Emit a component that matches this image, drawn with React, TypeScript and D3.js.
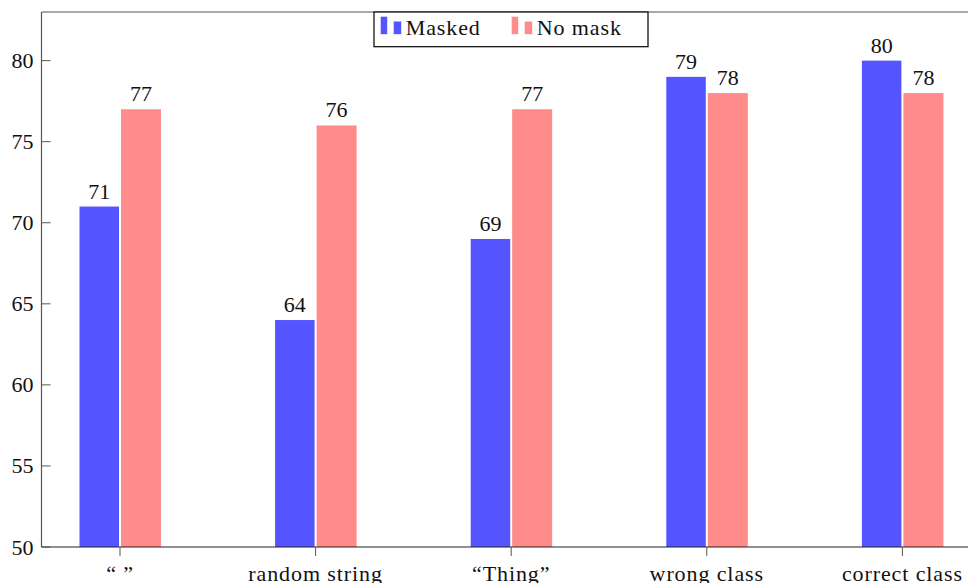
import React from "react";
import * as d3 from "d3";

const categories = ["“ ”", "random string", "“Thing”", "wrong class", "correct class"];
const masked = [71, 64, 69, 79, 80];
const noMask = [77, 76, 77, 78, 78];
const seriesNames = ["Masked", "No mask"];
const yTicks = [50, 55, 60, 65, 70, 75, 80];

const W = 968;
const H = 583;
const FONT = "'Liberation Serif', 'Times New Roman', serif";
const BLUE = "#5555ff";
const PINK = "#ff8b8b";

export default function App() {
  const x = d3.scalePoint<string>().domain(categories).range([120, 902.4]);
  const y = d3.scaleLinear().domain([50, 83]).range([547, 12]);
  const left = 41.5;
  const top = 12;
  const bottom = 547;
  const right = 1100;

  const bars = [
    { name: seriesNames[0], values: masked, color: BLUE, off: -40.5, w: 39.5 },
    { name: seriesNames[1], values: noMask, color: PINK, off: 1, w: 40 },
  ];

  const legendItems = [
    { name: seriesNames[0], color: BLUE, x: 380.7 },
    { name: seriesNames[1], color: PINK, x: 511.7 },
  ];

  return (
    <svg
      width={W}
      height={H}
      style={{ position: "absolute", left: 0, top: 0, background: "#fff" }}
      fontFamily={FONT}
    >
      {/* bars */}
      {bars.map((s) =>
        s.values.map((v, i) => {
          const cx = x(categories[i])!;
          return (
            <g key={s.name + i}>
              <rect
                x={cx + s.off}
                y={y(v)}
                width={s.w}
                height={y(50) - y(v)}
                fill={s.color}
              />
              <text
                x={cx + s.off + s.w / 2}
                y={y(v) - 8}
                textAnchor="middle"
                fontSize={22}
                fill="#111"
              >
                {v}
              </text>
            </g>
          );
        })
      )}

      {/* frame */}
      <line x1={left} x2={left} y1={top} y2={bottom} stroke="#555" strokeWidth={1.2} />
      <line x1={left} x2={right} y1={top} y2={top} stroke="#555" strokeWidth={1.2} />
      <line x1={left} x2={right} y1={bottom} y2={bottom} stroke="#222" strokeWidth={1.2} />

      {/* y ticks */}
      {yTicks.map((t) => (
        <g key={t}>
          <line x1={left} x2={left + 9} y1={y(t)} y2={y(t)} stroke="#555" strokeWidth={1} />
          <text
            x={33.5}
            y={y(t)}
            textAnchor="end"
            dominantBaseline="central"
            fontSize={22}
            fill="#111"
          >
            {t}
          </text>
        </g>
      ))}

      {/* x ticks */}
      {categories.map((c) => (
        <g key={c}>
          <line
            x1={x(c)!}
            x2={x(c)!}
            y1={bottom}
            y2={bottom + 9}
            stroke="#555"
            strokeWidth={1}
          />
          <text
            x={x(c)!}
            y={581}
            textAnchor="middle"
            fontSize={22}
            letterSpacing={0.9}
            fill="#111"
          >
            {c}
          </text>
        </g>
      ))}

      {/* legend */}
      <rect x={374} y={top} width={274} height={34.7} fill="#fff" stroke="#000" strokeWidth={1.2} />
      {legendItems.map((l) => (
        <g key={l.name}>
          <rect x={l.x} y={16.7} width={6.5} height={17.5} fill={l.color} />
          <rect x={l.x + 13} y={21.5} width={7.5} height={12.7} fill={l.color} />
          <text x={l.x + 25} y={35} fontSize={22} letterSpacing={0.9} fill="#111">
            {l.name}
          </text>
        </g>
      ))}
    </svg>
  );
}
